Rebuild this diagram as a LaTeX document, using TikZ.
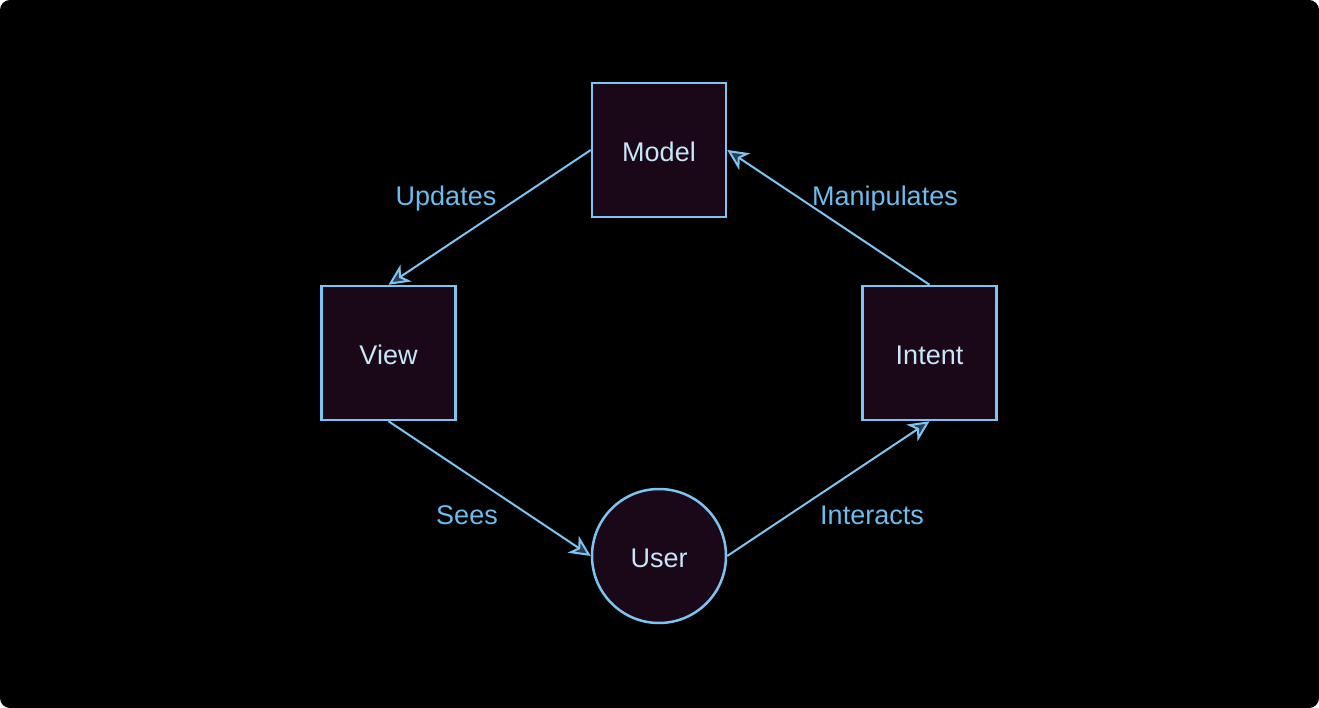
\documentclass[tikz,border=0pt]{standalone}
\usepackage{fontspec}
\setmainfont{Liberation Sans}
\usetikzlibrary{arrows.meta}
\definecolor{bgwhite}{HTML}{FFFFFF}
\definecolor{bgblack}{HTML}{000000}
\definecolor{nodefill}{HTML}{1A0818}
\definecolor{stroke}{HTML}{7CC4F2}
\definecolor{labelc}{HTML}{6CBCEE}
\definecolor{nodetext}{HTML}{C8E6F8}
\definecolor{tipfill}{HTML}{2B3D52}
\begin{document}
\begin{tikzpicture}[x=1pt,y=-1pt,
  box/.style={draw=stroke, line width=2.5pt, fill=nodefill, minimum width=134pt, minimum height=134pt, inner sep=0pt, text=nodetext, font=\fontsize{27}{32}\selectfont, text height=23pt, text depth=0pt},
  usercircle/.style={draw=stroke, line width=2.5pt, fill=nodefill, circle, minimum size=134pt, inner sep=0pt, text=nodetext, font=\fontsize{27}{32}\selectfont, text height=22pt, text depth=0pt},
  conn/.style={draw=stroke, line width=2pt, -{Stealth[length=21pt, width=20pt, inset=6pt, fill=tipfill, line width=2pt]}},
  lbl/.style={text=labelc, font=\fontsize{27}{32}\selectfont, inner sep=0pt}
]
\useasboundingbox (0,0) rectangle (1319,708);
\fill[bgwhite] (0,0) rectangle (1319,708);
\fill[bgblack, rounded corners=10pt] (0,0) rectangle (1319,708);

\node[box] (model) at (659,150) {Model};
\node[box] (view) at (388.5,353) {View};
\node[box] (intent) at (929.5,353) {Intent};
\node[usercircle] (user) at (659,556) {User};

\draw[conn] (model.west) -- (view.north);
\draw[conn] (view.south) -- (user.west);
\draw[conn] (user.east) -- (intent.south);
\draw[conn] (intent.north) -- (model.east);

\node[lbl] (lupd) at (446,199) {Updates};
\node[lbl] (lsees) at (467,515) {Sees};
\node[lbl] (lint) at (872,515) {Interacts};
\node[lbl] (lman) at (885,199) {Manipulates};
\end{tikzpicture}
\end{document}
